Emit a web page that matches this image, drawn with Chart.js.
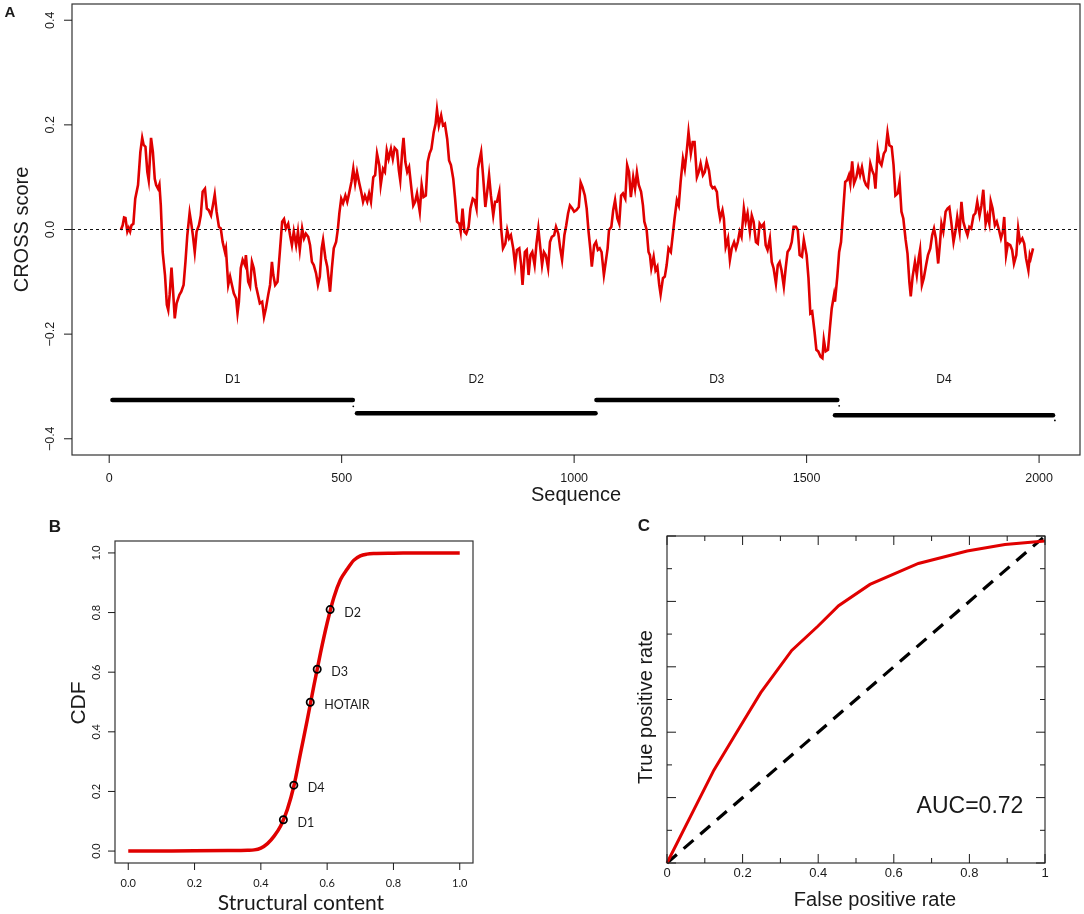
<!DOCTYPE html>
<html lang="en">
<head>
<meta charset="UTF-8">
<title>CROSS score profile, CDF and ROC</title>
<script src="https://cdn.jsdelivr.net/npm/chart.js@4"></script>
<style>
  body { margin: 0; background: #fff; }
  #fig { position: relative; width: 1084px; height: 914px; }
  canvas { position: absolute; }
</style>
</head>
<body>
<div id="fig">
  <canvas id="panelA" width="1084" height="510" style="left:0;top:0"></canvas>
  <canvas id="panelB" width="540" height="414" style="left:0;top:500px"></canvas>
  <canvas id="panelC" width="544" height="414" style="left:540px;top:500px"></canvas>
</div>

<script>
// ---- panel A: CROSS profile along the sequence ----
const seqPos = [25,29,32,35,39,42,45,48,52,56,62,67,71,74,78,82,85,90,94,98,101,105,108,111,115,120,124,127,130,134,137,141,145,151,155,160,164,168,173,176,180,184,188,193,197,201,206,210,214,219,223,227,231,236,240,244,249,251,256,260,264,268,273,276,279,283,287,292,294,299,303,307,311,316,320,324,329,333,337,342,346,350,353,357,362,367,372,376,380,385,389,393,397,402,406,410,415,419,423,428,432,436,440,445,449,453,457,460,465,469,475,479,483,488,492,495,499,503,508,512,516,
  521,525,529,533,538,542,546,550,555,559,563,568,572,576,581,584,589,593,597,601,606,610,614,619,623,626,630,633,637,641,645,650,654,658,662,668,672,676,681,685,689,693,698,702,705,709,714,718,722,727,731,735,740,744,748,753,756,760,764,768,773,777,782,786,790,793,797,800,804,809,813,817,821,826,830,834,839,843,847,852,856,860,864,869,873,877,882,886,889,894,898,902,906,910,915,919,923,926,931,935,939,944,948,952,957,961,966,970,974,979,983,987,991,996,1000,
  1005,1010,1014,1018,1023,1027,1031,1035,1038,1043,1047,1051,1055,1059,1064,1068,1072,1075,1080,1084,1088,1093,1097,1101,1105,1110,1114,1118,1122,1127,1131,1135,1139,1144,1148,1151,1156,1160,1163,1166,1171,1175,1179,1183,1186,1191,1195,1199,1203,1208,1212,1216,1221,1225,1229,1234,1238,1242,1246,1251,1255,1259,1264,1268,1272,1277,1281,1285,1290,1294,1298,1302,1307,1310,1314,1319,1322,1326,1331,1335,1339,1344,1348,1352,1356,1360,1365,1369,1373,1378,1382,1386,1391,1395,1399,1403,1408,1412,1416,1421,1425,1429,1434,1438,1442,1446,1451,1455,1459,1464,1468,1472,1477,1481,1485,1490,1494,
  1500,1504,1508,1512,1517,1521,1525,1530,1534,1537,1541,1546,1550,1554,1559,1561,1566,1570,1574,1579,1583,1587,1591,1594,1598,1602,1607,1611,1615,1619,1624,1628,1632,1637,1641,1645,1648,1653,1657,1661,1666,1670,1674,1678,1683,1687,1691,1696,1700,1704,1708,1713,1717,1721,1724,1728,1733,1737,1741,1744,1748,1752,1757,1761,1766,1770,1774,1778,1783,1787,1790,1794,1799,1803,1807,1811,1816,1820,1824,1829,1833,1837,1841,1846,1850,1854,1859,1863,1867,1872,1876,1880,1885,1889,1893,1896,1900,1905,1909,1913,1918,1922,1925,1929,1933,1938,1942,1946,1951,1955,1959,1964,1968,1972,1977,1980,1982,1987];
const crossScore = [-0.001,0.008,0.023,0.022,-0.004,0.003,-0.004,0.008,0.011,0.059,0.085,0.148,0.175,0.162,0.158,0.110,0.094,0.175,0.148,0.097,0.085,0.078,0.086,0.046,-0.043,-0.087,-0.144,-0.154,-0.125,-0.073,-0.112,-0.170,-0.141,-0.125,-0.119,-0.106,-0.062,-0.011,0.032,0.015,-0.011,-0.043,-0.004,0.008,0.027,0.072,0.078,0.040,0.037,0.027,0.046,0.067,0.034,0.005,0.002,-0.024,-0.043,-0.036,-0.106,-0.090,-0.106,-0.122,-0.132,-0.160,-0.138,-0.074,-0.058,-0.068,-0.049,-0.100,-0.109,-0.062,-0.074,-0.109,-0.125,-0.141,-0.138,-0.167,-0.151,-0.125,-0.106,-0.062,-0.087,-0.106,-0.100,-0.043,0.015,0.020,0.002,0.011,-0.011,-0.030,-0.004,-0.030,-0.004,-0.039,0.002,-0.017,-0.008,-0.014,-0.030,-0.062,-0.068,-0.084,-0.106,-0.090,-0.036,-0.020,-0.055,-0.071,-0.119,-0.074,-0.036,-0.024,0.002,0.031,0.059,0.050,0.065,0.053,0.069,
  0.091,0.116,0.088,0.110,0.088,0.072,0.053,0.065,0.053,0.069,0.053,0.100,0.104,0.145,0.123,0.085,0.116,0.110,0.151,0.135,0.154,0.135,0.156,0.151,0.113,0.094,0.148,0.175,0.129,0.110,0.119,0.078,0.046,0.053,0.069,0.034,0.085,0.062,0.065,0.129,0.145,0.154,0.186,0.202,0.229,0.199,0.218,0.199,0.202,0.173,0.132,0.123,0.097,0.059,0.015,0.011,-0.004,0.040,-0.004,-0.008,0.005,0.040,0.059,0.056,0.040,0.116,0.135,0.148,0.104,0.043,0.072,0.104,0.065,0.027,0.053,0.053,0.072,0.002,-0.036,-0.027,-0.001,-0.017,-0.011,-0.036,-0.068,-0.039,-0.036,-0.068,-0.106,-0.043,-0.039,-0.087,-0.049,-0.043,-0.068,-0.027,0.002,-0.024,-0.068,-0.043,-0.049,-0.074,-0.024,-0.014,-0.011,0.005,-0.008,-0.036,-0.058,-0.011,0.008,0.031,0.046,0.040,0.034,
  0.037,0.043,0.090,0.081,0.065,0.040,-0.004,-0.039,-0.071,-0.030,-0.024,-0.039,-0.036,-0.043,-0.087,-0.062,-0.036,-0.001,0.005,0.037,0.056,0.021,0.011,0.065,0.069,0.059,0.123,0.110,0.062,0.100,0.078,0.109,0.085,0.072,0.046,0.015,-0.001,-0.043,-0.049,-0.074,-0.052,-0.078,-0.071,-0.106,-0.124,-0.093,-0.090,-0.068,-0.036,-0.043,-0.011,0.021,0.056,0.046,0.091,0.135,0.116,0.148,0.186,0.145,0.167,0.167,0.100,0.110,0.126,0.104,0.110,0.130,0.113,0.085,0.079,0.081,0.072,0.043,0.021,0.037,0.021,-0.033,-0.017,-0.058,-0.036,-0.024,-0.036,-0.024,-0.004,-0.014,0.040,0.015,0.031,-0.004,0.027,0.015,-0.024,-0.027,0.011,0.005,0.011,-0.030,-0.039,-0.017,-0.062,-0.074,-0.103,-0.068,-0.062,-0.078,-0.109,-0.074,-0.043,-0.036,-0.024,0.005,0.005,-0.001,-0.049,-0.052,-0.020,
  -0.049,-0.093,-0.160,-0.157,-0.195,-0.230,-0.233,-0.243,-0.246,-0.211,-0.233,-0.230,-0.189,-0.151,-0.125,-0.138,-0.090,-0.043,-0.024,0.040,0.091,0.094,0.104,0.088,0.130,0.088,0.100,0.119,0.104,0.119,0.094,0.085,0.081,0.126,0.113,0.104,0.078,0.151,0.129,0.123,0.145,0.151,0.185,0.161,0.158,0.123,0.065,0.069,0.091,0.034,0.021,-0.020,-0.046,-0.100,-0.128,-0.090,-0.062,-0.087,-0.055,-0.039,-0.106,-0.093,-0.068,-0.049,-0.036,-0.011,0.002,-0.017,-0.065,-0.024,0.011,-0.004,0.034,0.040,0.043,0.015,-0.024,-0.004,0.024,-0.004,0.053,0.015,0.002,-0.011,0.005,0.002,0.027,0.031,0.053,0.027,0.046,0.076,0.011,0.027,0.011,0.054,0.040,0.008,0.015,0.002,-0.017,-0.004,0.024,-0.049,-0.027,-0.030,-0.039,-0.065,-0.049,0.002,-0.024,-0.017,-0.027,-0.055,-0.078,-0.049,-0.055,-0.036];

const domainNames = ["D1", "D2", "D3", "D4"];
const domainStart = [7, 533, 1048, 1561];
const domainEnd = [524, 1046, 1566, 2030];
const domainLevel = [-0.326, -0.351, -0.326, -0.355];
const domainDotX = [525, 1570, 2034];
const domainDotY = [-0.338, -0.337, -0.365];
const seqTicks = [0, 500, 1000, 1500, 2000];
const scoreTicks = [-0.4, -0.2, 0, 0.2, 0.4];

// ---- panel B: CDF of structural content ----
const cdfX = [0, 0.1, 0.2, 0.3, 0.36, 0.38, 0.40, 0.42, 0.44, 0.46, 0.48, 0.50, 0.52, 0.54, 0.56, 0.58, 0.60, 0.62, 0.64, 0.66, 0.68, 0.70, 0.72, 0.74, 0.8, 0.9, 1.0];
const cdfY = [0, 0.0005, 0.001, 0.002, 0.003, 0.004, 0.010, 0.025, 0.050, 0.085, 0.14, 0.22, 0.33, 0.44, 0.555, 0.665, 0.765, 0.85, 0.91, 0.945, 0.975, 0.99, 0.996, 0.998, 0.999, 1.0, 1.0];
const markNames = ["D1", "D4", "HOTAIR", "D3", "D2"];
const markX = [0.468, 0.4995, 0.549, 0.570, 0.609];
const markY = [0.105, 0.221, 0.499, 0.610, 0.810];
const unitTicks = [0, 0.2, 0.4, 0.6, 0.8, 1];

// ---- panel C: ROC ----
const fpr = [0, 0.124, 0.188, 0.248, 0.330, 0.399, 0.454, 0.537, 0.665, 0.794, 0.894, 1];
const tpr = [0, 0.284, 0.407, 0.521, 0.650, 0.724, 0.787, 0.852, 0.916, 0.954, 0.974, 0.985];
const diagX = [0, 1];
const diagY = [0, 1];
const rocTickLabels = ["0", "0.2", "0.4", "0.6", "0.8", "1"];
const aucText = "AUC=0.72";

const RED = "#e00000";
const INK = "#1a1a1a";
const HELV = "'Liberation Sans', Arial, Helvetica, sans-serif";
const GILL = "Lato, 'Open Sans', sans-serif";

function pts(xs, ys) {
    return xs.map((x, i) => ({ x: x, y: ys[i] }));
}

function txt(ctx, s, x, y, font, align, rot) {
    ctx.save();
    ctx.translate(x, y);
    if (rot) ctx.rotate(rot);
    ctx.font = font;
    ctx.fillStyle = INK;
    ctx.textAlign = align || "center";
    ctx.textBaseline = "middle";
    ctx.fillText(s, 0, 0);
    ctx.restore();
}

function seg(ctx, x1, y1, x2, y2, w) {
    ctx.save();
    ctx.strokeStyle = INK;
    ctx.lineWidth = w || 1;
    ctx.beginPath();
    ctx.moveTo(x1, y1);
    ctx.lineTo(x2, y2);
    ctx.stroke();
    ctx.restore();
}

function box(ctx, a) {
    ctx.save();
    ctx.strokeStyle = "#333";
    ctx.lineWidth = 1.2;
    ctx.strokeRect(a.left, a.top, a.right - a.left, a.bottom - a.top);
    ctx.restore();
}

function fmt(v) {
    return (v < 0 ? "\u2212" : "") + Math.abs(v).toFixed(1);
}

const baseOptions = (pad, xr, yr) => ({
    responsive: false,
    animation: false,
    events: [],
    layout: { padding: pad },
    scales: {
        x: { type: "linear", min: xr[0], max: xr[1], display: false },
        y: { type: "linear", min: yr[0], max: yr[1], display: false }
    },
    plugins: { legend: { display: false }, tooltip: { enabled: false } }
});

// panel A
const axesA = {
    id: "axesA",
    afterDraw(chart) {
        const { ctx, chartArea: a, scales: { x, y } } = chart;
        box(ctx, a);
        seqTicks.forEach(v => {
            const px = x.getPixelForValue(v);
            seg(ctx, px, a.bottom, px, a.bottom + 8);
            txt(ctx, String(v), px, 479, "12.5px " + HELV);
        });
        scoreTicks.forEach(v => {
            const py = y.getPixelForValue(v);
            seg(ctx, a.left - 8, py, a.left, py);
            txt(ctx, fmt(v), 51, py, "12.5px " + HELV, "center", -Math.PI / 2);
        });
        domainNames.forEach((n, i) => {
            txt(ctx, n, x.getPixelForValue((domainStart[i] + domainEnd[i]) / 2), y.getPixelForValue(-0.287), "12px " + HELV);
        });
        txt(ctx, "CROSS score", 22, (a.top + a.bottom) / 2, "20px " + HELV, "center", -Math.PI / 2);
        txt(ctx, "Sequence", (a.left + a.right) / 2, 495, "20px " + HELV);
        txt(ctx, "A", 10, 13, "bold 15px " + HELV);
    }
};

const dsA = [
    { data: [{ x: -80, y: 0 }, { x: 2088, y: 0 }], showLine: true, borderColor: "#111", borderWidth: 1, borderDash: [3, 3], pointRadius: 0, order: 0 },
    { data: pts(seqPos, crossScore), showLine: true, borderColor: RED, borderWidth: 2.6, pointRadius: 0, order: 1 }
];
domainNames.forEach((n, i) => {
    dsA.push({
        data: [{ x: domainStart[i], y: domainLevel[i] }, { x: domainEnd[i], y: domainLevel[i] }],
        showLine: true, borderColor: "#000", borderWidth: 4.5, borderCapStyle: "round",
        pointRadius: 0, order: 2
    });
});
dsA.push({ data: pts(domainDotX, domainDotY), pointRadius: 0.9, pointBorderWidth: 0, pointBackgroundColor: "#000", order: 3 });

new Chart(document.getElementById("panelA"), {
    type: "scatter",
    data: { datasets: dsA },
    options: baseOptions({ left: 72, top: 3, right: 3, bottom: 55 }, [-80, 2088], [-0.431, 0.431]),
    plugins: [axesA]
});

// panel B
const axesB = {
    id: "axesB",
    afterDraw(chart) {
        const { ctx, chartArea: a, scales: { x, y } } = chart;
        box(ctx, a);
        unitTicks.forEach(v => {
            const px = x.getPixelForValue(v);
            seg(ctx, px, a.bottom, px, a.bottom + 7);
            txt(ctx, v.toFixed(1), px, 383, "11px " + GILL);
            const py = y.getPixelForValue(v);
            seg(ctx, a.left - 7, py, a.left, py);
            txt(ctx, v.toFixed(1), 96.5, py, "11px " + GILL, "center", -Math.PI / 2);
        });
        markNames.forEach((n, i) => {
            txt(ctx, n, x.getPixelForValue(markX[i]) + 14, y.getPixelForValue(markY[i]) + 3, "12.5px " + GILL, "left");
        });
        txt(ctx, "CDF", 79, 203, "21px " + HELV, "center", -Math.PI / 2);
        txt(ctx, "Structural content", 301, 403, "21px " + GILL);
        txt(ctx, "B", 55, 27, "bold 17px " + HELV);
    }
};

new Chart(document.getElementById("panelB"), {
    type: "scatter",
    data: {
        datasets: [
            { data: pts(markX, markY), pointRadius: 3.6, pointBorderWidth: 1.8, pointBorderColor: "#000", pointBackgroundColor: "rgba(0,0,0,0)", order: 0 },
            { data: pts(cdfX, cdfY), showLine: true, borderColor: RED, borderWidth: 3.5, pointRadius: 0, cubicInterpolationMode: "monotone", order: 1 }
        ]
    },
    options: baseOptions({ left: 115, top: 41, right: 67, bottom: 51 }, [-0.04, 1.04], [-0.04, 1.04]),
    plugins: [axesB]
});

// panel C
const axesC = {
    id: "axesC",
    afterDraw(chart) {
        const { ctx, chartArea: a, scales: { x, y } } = chart;
        box(ctx, a);
        for (let k = 0; k <= 10; k++) {
            const v = k / 10;
            const len = k % 2 === 0 ? 9 : 5;
            const px = x.getPixelForValue(v);
            const py = y.getPixelForValue(v);
            seg(ctx, px, a.bottom, px, a.bottom - len);
            seg(ctx, px, a.top, px, a.top + len);
            seg(ctx, a.left, py, a.left + len, py);
            seg(ctx, a.right, py, a.right - len, py);
        }
        unitTicks.forEach((v, i) => {
            txt(ctx, rocTickLabels[i], x.getPixelForValue(v), 373, "13px " + HELV);
        });
        txt(ctx, "False positive rate", 335, 400, "20px " + HELV);
        txt(ctx, "True positive rate", 106, 207, "20px " + HELV, "center", -Math.PI / 2);
        txt(ctx, aucText, 430, 307, "23px " + HELV);
        txt(ctx, "C", 104, 26, "bold 17px " + HELV);
    }
};

new Chart(document.getElementById("panelC"), {
    type: "scatter",
    data: {
        datasets: [
            { data: pts(fpr, tpr), showLine: true, borderColor: RED, borderWidth: 3, pointRadius: 0, clip: 4, order: 0 },
            { data: pts(diagX, diagY), showLine: true, borderColor: "#000", borderWidth: 3.2, borderDash: [13, 9], pointRadius: 0, clip: 4, order: 1 }
        ]
    },
    options: baseOptions({ left: 127, top: 36, right: 39, bottom: 51 }, [0, 1], [0, 1]),
    plugins: [axesC]
});
</script>
</body>
</html>
